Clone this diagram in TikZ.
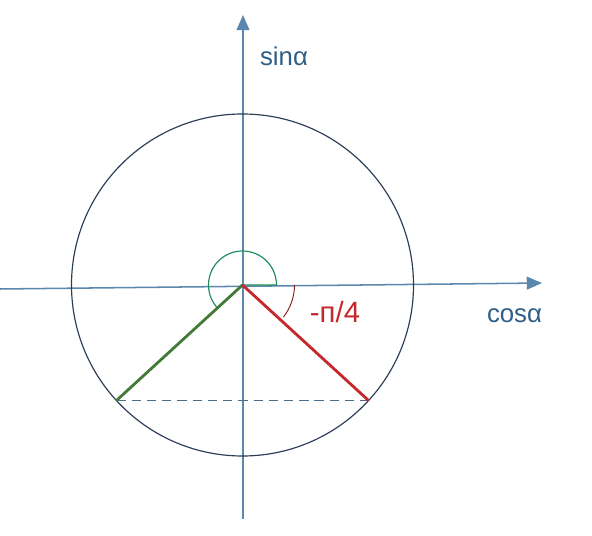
\documentclass[tikz,border=0pt]{standalone}
\usepackage{fontspec}
\setmainfont{Liberation Sans}
\usetikzlibrary{arrows.meta}

\definecolor{axisblue}{HTML}{5A87AE}
\definecolor{labelblue}{HTML}{2F5E86}
\definecolor{circlenavy}{HTML}{2C3D57}
\definecolor{anglered}{HTML}{C4282C}
\definecolor{sidegreen}{HTML}{437A37}
\definecolor{arcgreen}{HTML}{1F8C5E}

\tikzset{
  axis/.style={draw=axisblue, line width=1.3pt, -{Triangle[length=13pt,width=11pt]}},
  side/.style={line width=2.4pt},
  axislabel/.style={text=labelblue, font=\fontsize{22}{26}\selectfont}
}

\begin{document}
\begin{tikzpicture}[x=0.03cm, y=0.03cm]

      \useasboundingbox (-242.5,-251) rectangle (349.5,285);

      \coordinate (O) at (0,0);
      \coordinate (A) at (-137.5:171);
      \coordinate (B) at (-42.5:171);

      % axes
      \coordinate (xstart) at (-242.5,-4);
      \coordinate (xend) at (299.5,2);
      \coordinate (ystart) at (0.5,-234);
      \coordinate (yend) at (0.5,270);
      \draw[axis] (xstart) -- (xend);
      \draw[axis] (ystart) -- (yend);

      \draw[circlenavy, line width=1pt] (O) circle (171);

      \draw[axisblue!80!black, line width=1pt, dash pattern=on 8pt off 5pt] (A) -- (B);

      % angles
      \draw[arcgreen, line width=1pt] (O) -- (0:34) arc (0:225:34);
      \draw[anglered!70!black, line width=0.8pt] (0:52) arc (0:-38:52);

      \draw[side, sidegreen] (O) -- (A);
      \draw[side, anglered] (O) -- (B);

      \node[axislabel] (sinlabel) at (41.5,229) {sinα};
      \node[axislabel] (coslabel) at (272,-31) {cosα};
      \node[text=anglered, font=\fontsize{25}{29}\selectfont] (anglelabel) at (92.5,-27) {-п/4};
    \end{tikzpicture}
\end{document}
